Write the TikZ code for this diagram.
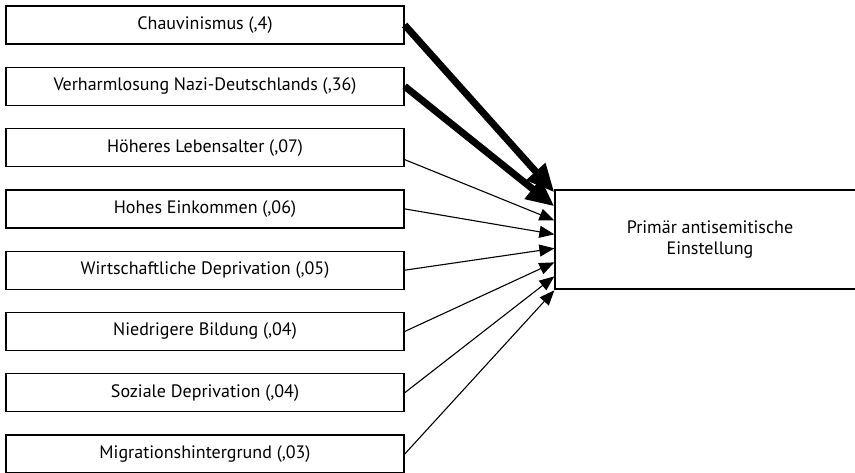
\documentclass[tikz,border=0pt]{standalone}
\usepackage{fontspec}
\setmainfont{PT Sans}
\usetikzlibrary{arrows.meta}
\tikzset{
  faktor/.style={draw, line width=1.3pt, minimum width=398pt, minimum height=38pt,
    inner sep=0pt, font=\fontsize{18}{21}\selectfont},
  duenn/.style={line width=1.1pt, -{Triangle[length=15pt,width=12pt]}},
  dick/.style={line width=7pt, -{Triangle[length=28pt,width=24pt]}},
}
\begin{document}
\begin{tikzpicture}[x=1pt,y=-1pt]
    \useasboundingbox (0,0) rectangle (855,473);

    % Einflussfaktoren links
    \node[faktor] (chauv) at (205,25) {Chauvinismus (,4)};
    \node[faktor] (verharml) at (205,86.3) {Verharmlosung Nazi-Deutschlands (,36)};
    \node[faktor] (alter) at (205,147.6) {Höheres Lebensalter (,07)};
    \node[faktor] (einkommen) at (205,208.9) {Hohes Einkommen (,06)};
    \node[faktor] (wirtdepr) at (205,270.2) {Wirtschaftliche Deprivation (,05)};
    \node[faktor] (bildung) at (205,331.5) {Niedrigere Bildung (,04)};
    \node[faktor] (sozdepr) at (205,392.8) {Soziale Deprivation (,04)};
    \node[faktor] (migration) at (205,454.1) {Migrationshintergrund (,03)};

    % Zielvariable rechts
    \node[faktor, minimum width=310pt, minimum height=99pt, align=center] (ziel) at (710,239.5)
        {Primär antisemitische\\Einstellung};

    % Pfade
    \draw[dick] (chauv.east) -- ([yshift=-3pt]ziel.north west);
    \draw[dick] (verharml.east) -- ([yshift=-17pt]ziel.north west);
    \draw[duenn] ([yshift=-12pt]alter.east) -- ([yshift=-31pt]ziel.north west);
    \draw[duenn] (einkommen.east) -- ([yshift=-45pt]ziel.north west);
    \draw[duenn] (wirtdepr.east) -- ([yshift=-59pt]ziel.north west);
    \draw[duenn] (bildung.east) -- ([yshift=-73pt]ziel.north west);
    \draw[duenn] (sozdepr.east) -- ([yshift=-87pt]ziel.north west);
    \draw[duenn] (migration.east) -- ([yshift=-101pt]ziel.north west);
\end{tikzpicture}
\end{document}
